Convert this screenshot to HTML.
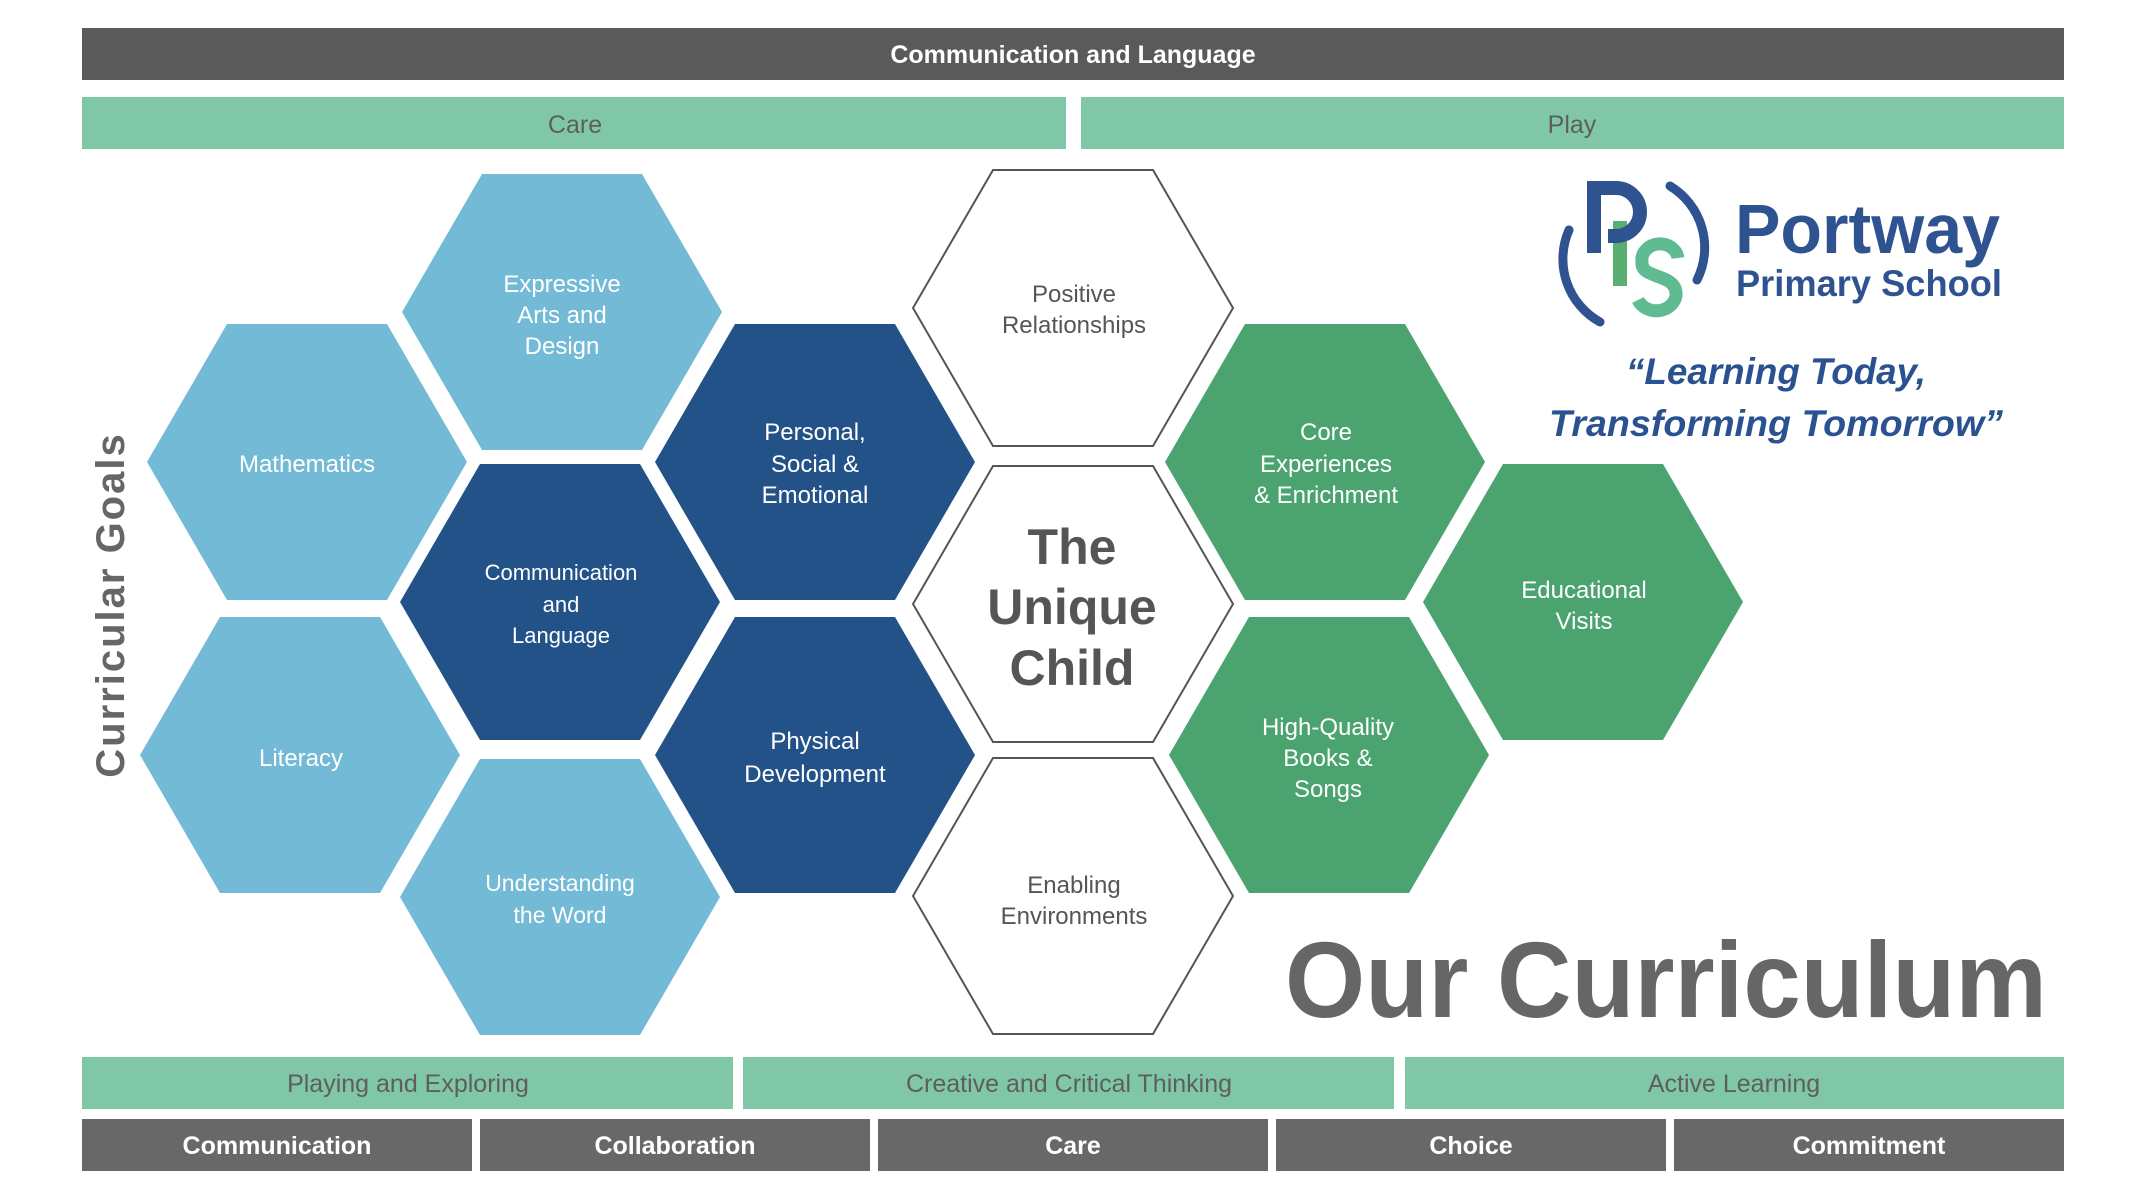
<!DOCTYPE html>
<html><head><meta charset="utf-8"><style>
html,body{margin:0;padding:0;background:#fff;}
svg{display:block;}
text{font-family:"Liberation Sans",sans-serif;}
</style></head><body>
<svg width="2146" height="1204" viewBox="0 0 2146 1204" xmlns="http://www.w3.org/2000/svg">
<defs>
<polygon id="hx" points="-160,0 -80,-138 80,-138 160,0 80,138 -80,138"/>
</defs>
<rect x="82" y="28" width="1982" height="52" fill="#5a5a5a"/>
<text x="1073" y="63" font-size="25" font-weight="bold" fill="#fff" text-anchor="middle">Communication and Language</text>
<rect x="82" y="97" width="984" height="52" fill="#80c7a8"/>
<text x="575" y="133" font-size="25" fill="#5e5e5e" text-anchor="middle">Care</text>
<rect x="1081" y="97" width="983" height="52" fill="#80c7a8"/>
<text x="1572" y="133" font-size="25" fill="#5e5e5e" text-anchor="middle">Play</text>

<rect x="82" y="1057" width="651" height="52" fill="#80c7a8"/>
<text x="408" y="1092" font-size="25" fill="#5e5e5e" text-anchor="middle">Playing and Exploring</text>
<rect x="743" y="1057" width="651" height="52" fill="#80c7a8"/>
<text x="1069" y="1092" font-size="25" fill="#5e5e5e" text-anchor="middle">Creative and Critical Thinking</text>
<rect x="1405" y="1057" width="659" height="52" fill="#80c7a8"/>
<text x="1734" y="1092" font-size="25" fill="#5e5e5e" text-anchor="middle">Active Learning</text>

<rect x="82" y="1119" width="390" height="52" fill="#686868"/>
<text x="277" y="1154" font-size="25" font-weight="bold" fill="#fff" text-anchor="middle">Communication</text>
<rect x="480" y="1119" width="390" height="52" fill="#686868"/>
<text x="675" y="1154" font-size="25" font-weight="bold" fill="#fff" text-anchor="middle">Collaboration</text>
<rect x="878" y="1119" width="390" height="52" fill="#686868"/>
<text x="1073" y="1154" font-size="25" font-weight="bold" fill="#fff" text-anchor="middle">Care</text>
<rect x="1276" y="1119" width="390" height="52" fill="#686868"/>
<text x="1471" y="1154" font-size="25" font-weight="bold" fill="#fff" text-anchor="middle">Choice</text>
<rect x="1674" y="1119" width="390" height="52" fill="#686868"/>
<text x="1869" y="1154" font-size="25" font-weight="bold" fill="#fff" text-anchor="middle">Commitment</text>

<text transform="translate(124,605) rotate(-90)" font-size="40" font-weight="bold" fill="#666" text-anchor="middle" letter-spacing="2">Curricular Goals</text>

<g fill="#73bad6">
<use href="#hx" transform="translate(562,312)"/>
<use href="#hx" transform="translate(307,462)"/>
<use href="#hx" transform="translate(300,755)"/>
<use href="#hx" transform="translate(560,897)"/>
</g>
<g fill="#235288">
<use href="#hx" transform="translate(560,602)"/>
<use href="#hx" transform="translate(815,462)"/>
<use href="#hx" transform="translate(815,755)"/>
</g>
<g fill="#4ba370">
<use href="#hx" transform="translate(1325,462)"/>
<use href="#hx" transform="translate(1583,602)"/>
<use href="#hx" transform="translate(1329,755)"/>
</g>
<g fill="#fff" stroke="#555" stroke-width="2">
<use href="#hx" transform="translate(1073,308)"/>
<use href="#hx" transform="translate(1073,604)"/>
<use href="#hx" transform="translate(1073,896)"/>
</g>

<g font-size="24" fill="#fff" text-anchor="middle">
<text x="562" y="292">Expressive</text><text x="562" y="323">Arts and</text><text x="562" y="354">Design</text>
<text x="307" y="472">Mathematics</text>
<text x="561" y="580" font-size="22">Communication</text><text x="561" y="612" font-size="22">and</text><text x="561" y="643" font-size="22">Language</text>
<text x="815" y="440">Personal,</text><text x="815" y="472">Social &amp;</text><text x="815" y="503">Emotional</text>
<text x="301" y="766">Literacy</text>
<text x="560" y="891" font-size="23">Understanding</text><text x="560" y="923" font-size="23">the Word</text>
<text x="815" y="749">Physical</text><text x="815" y="782">Development</text>
<text x="1326" y="440">Core</text><text x="1326" y="472">Experiences</text><text x="1326" y="503">&amp; Enrichment</text>
<text x="1584" y="598">Educational</text><text x="1584" y="629">Visits</text>
<text x="1328" y="735">High-Quality</text><text x="1328" y="766">Books &amp;</text><text x="1328" y="797">Songs</text>
</g>
<g font-size="24" fill="#555" text-anchor="middle">
<text x="1074" y="302">Positive</text><text x="1074" y="333">Relationships</text>
<text x="1074" y="893">Enabling</text><text x="1074" y="924">Environments</text>
</g>
<g font-size="50" font-weight="bold" fill="#555" text-anchor="middle">
<text x="1072" y="564">The</text><text x="1072" y="624">Unique</text><text x="1072" y="685">Child</text>
</g>

<g fill="none" stroke-linecap="round">
<path d="M1600,322 A72,72 0 0 1 1569,230" stroke="#2f5391" stroke-width="9"/>
<path d="M1670,186 A72,72 0 0 1 1697,280" stroke="#2f5391" stroke-width="9"/>
<path d="M1620,221 L1620,286" stroke="#5aae72" stroke-width="14" stroke-linecap="butt"/>
<path d="M1594,253 L1594,188 L1616,188 A24,24 0 0 1 1616,236 L1608,236" stroke="#2f5391" stroke-width="14" stroke-linecap="butt"/>
<path d="M1678,258 A18,16 0 0 0 1642,262 C1640,280 1678,272 1676,296 A20,18 0 0 1 1638,300" stroke="#5fbb91" stroke-width="13" stroke-linecap="butt"/>
</g>
<text x="1735" y="253" font-size="70" font-weight="bold" fill="#2f5391" textLength="265" lengthAdjust="spacingAndGlyphs">Portway</text>
<text x="1736" y="296" font-size="37" font-weight="bold" fill="#2f5391" textLength="266" lengthAdjust="spacingAndGlyphs">Primary School</text>
<text x="1776" y="384" font-size="37" font-weight="bold" font-style="italic" fill="#2a5291" text-anchor="middle" textLength="300" lengthAdjust="spacingAndGlyphs">“Learning Today,</text>
<text x="1776" y="436" font-size="37" font-weight="bold" font-style="italic" fill="#2a5291" text-anchor="middle" textLength="454" lengthAdjust="spacingAndGlyphs">Transforming Tomorrow”</text>

<text x="1285" y="1017" font-size="108" font-weight="bold" fill="#666" textLength="762" lengthAdjust="spacingAndGlyphs">Our Curriculum</text>
</svg>
</body></html>
